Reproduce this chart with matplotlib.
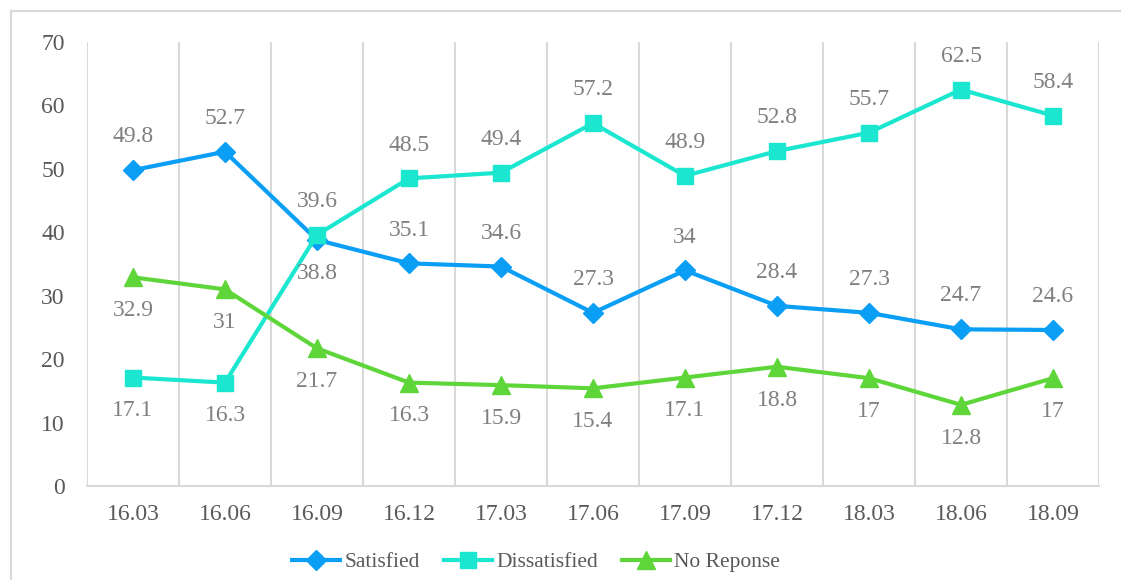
import matplotlib
matplotlib.use("Agg")
import matplotlib.pyplot as plt
from matplotlib.patches import Rectangle

# periods and survey shares (%)
periods = ["16.03", "16.06", "16.09", "16.12", "17.03", "17.06",
           "17.09", "17.12", "18.03", "18.06", "18.09"]
satisfied = [49.8, 52.7, 38.8, 35.1, 34.6, 27.3, 34, 28.4, 27.3, 24.7, 24.6]
dissatisfied = [17.1, 16.3, 39.6, 48.5, 49.4, 57.2, 48.9, 52.8, 55.7, 62.5, 58.4]
no_response = [32.9, 31, 21.7, 16.3, 15.9, 15.4, 17.1, 18.8, 17, 12.8, 17]

# label placement: +1 above the point, -1 below
sat_pos = [1, 1, -1, 1, 1, 1, 1, 1, 1, 1, 1]
dis_pos = [-1, -1, 1, 1, 1, 1, 1, 1, 1, 1, 1]
nr_pos = [-1] * 11

BLUE = "#0A9EF5"
TEAL = "#1BE6CF"
GREEN = "#5ED63A"
GRID = "#D9D9D9"
LABEL = "#808080"
TICK = "#595959"

plt.rcParams["font.family"] = ["Liberation Serif", "DejaVu Serif"]

fig = plt.figure(figsize=(11.21, 5.80), dpi=100)
fig.patches.append(Rectangle((11 / 1121, -0.1), 1.2, 1.1 - 11 / 580,
                             transform=fig.transFigure, fill=False,
                             ec=GRID, lw=1.5, zorder=0))
ax = fig.add_axes([87 / 1121, 1 - 486 / 580, (1099 - 87) / 1121, (486 - 42) / 580])

x = range(len(periods))
series = [
    (satisfied, sat_pos, BLUE, "D", 10.5, "Satisfied"),
    (dissatisfied, dis_pos, TEAL, "s", 12, "Dissatisfied"),
    (no_response, nr_pos, GREEN, "^", 12.5, "No Reponse"),
]
for vals, pos, col, mk, ms, name in series:
    ax.plot(x, vals, color=col, lw=3, marker=mk, ms=ms, label=name,
            solid_joinstyle="miter", zorder=3)
    for xi, v, p in zip(x, vals, pos):
        ax.annotate(f"{v:g}", (xi, v), xytext=(0, 24 * p),
                    textcoords="offset points", ha="center", va="center",
                    fontsize=17, color=LABEL, zorder=4)

ax.set_xlim(-0.5, len(periods) - 0.5)
ax.set_ylim(0, 70)
ax.set_yticks(range(0, 71, 10))
ax.set_xticks(list(x))
ax.set_xticklabels(periods)
ax.set_xticks([i - 0.5 for i in range(len(periods) + 1)], minor=True)
ax.grid(axis="x", which="minor", color=GRID, lw=1.5, zorder=0)
ax.tick_params(axis="both", which="both", length=0, labelsize=17,
               labelcolor=TICK)
ax.tick_params(axis="x", pad=13)
ax.tick_params(axis="y", pad=16)
for s in ["top", "right", "left"]:
    ax.spines[s].set_visible(False)
ax.spines["bottom"].set_color(GRID)
ax.spines["bottom"].set_linewidth(1.5)

fig.legend(loc="center", bbox_to_anchor=(536 / 1121, 1 - 562 / 580),
           ncol=3, frameon=False, handlelength=2.25,
           handletextpad=0.2, columnspacing=1.1, labelcolor=TICK,
           prop={"family": ["Liberation Serif"], "size": 15.5})

fig.savefig("out.png", dpi=100, facecolor="white")
